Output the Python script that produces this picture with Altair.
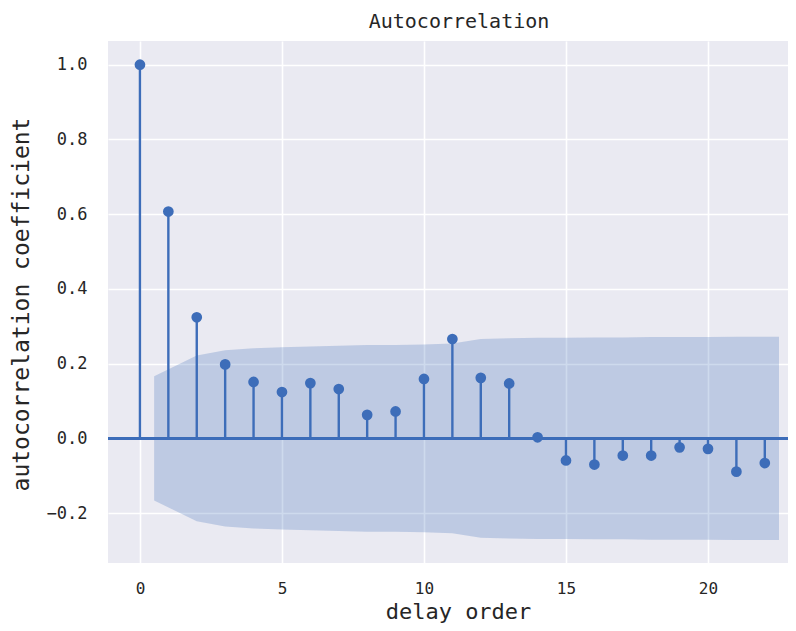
import altair as alt
import pandas as pd

# ACF values
lags = list(range(23))
acf_values = [1.0, 0.607, 0.324, 0.198, 0.151, 0.124, 0.148, 0.132, 0.063, 0.072,
              0.159, 0.266, 0.162, 0.147, 0.003, -0.059, -0.070, -0.046, -0.046,
              -0.024, -0.028, -0.089, -0.066]

# confidence band (upper edge; lower edge is the mirror)
band_x = [0.5, 2, 3, 4, 5, 6, 7, 8, 9, 10, 11, 12, 13, 14, 15, 16, 17, 18, 19, 20, 21, 22.5]
band_hi = [0.166, 0.222, 0.236, 0.241, 0.244, 0.246, 0.248, 0.250, 0.250, 0.251, 0.254,
           0.266, 0.268, 0.269, 0.269, 0.270, 0.270, 0.271, 0.271, 0.271, 0.272, 0.272]

x_ticks = [0, 5, 10, 15, 20]
y_ticks = [-0.2, 0.0, 0.2, 0.4, 0.6, 0.8, 1.0]

BLUE = "#3D6DB9"
FONT = "DejaVu Sans Mono"
TXT = "#262626"

acf_df = pd.DataFrame({"lag": lags, "acf": acf_values, "zero": [0.0] * len(lags)})
band_df = pd.DataFrame({"lag": band_x, "hi": band_hi, "lo": [-v for v in band_hi]})

xscale = alt.Scale(domain=[-1.125, 22.817], nice=False, zero=False)
yscale = alt.Scale(domain=[-0.3335, 1.0635], nice=False, zero=False)

xaxis = alt.Axis(values=x_ticks, title="delay order", labelFont=FONT, labelFontSize=16,
                 labelColor=TXT, labelPadding=17, titleFont=FONT, titleFontSize=22,
                 titleFontWeight="normal", titleColor=TXT, titleBaseline="alphabetic",
                 titleX=350, titleY=55, titleAnchor="middle", titleAlign="center",
                 format="d")
yaxis = alt.Axis(values=y_ticks, title="autocorrelation coefficient", labelFont=FONT,
                 labelFontSize=17, labelColor=TXT, labelPadding=21, titleFont=FONT,
                 titleFontSize=23, titleFontWeight="normal", titleColor=TXT,
                 titleX=-75, titleY=263, titleAngle=-90,
                 titleAlign="center", format=".1f")

band = alt.Chart(band_df).mark_area(color=BLUE, opacity=0.25).encode(
    x=alt.X("lag:Q", scale=xscale, axis=xaxis),
    y=alt.Y("hi:Q", scale=yscale, axis=yaxis),
    y2="lo:Q",
)

zero_line = alt.Chart(acf_df).mark_rule(color=BLUE, strokeWidth=2.4).encode(
    y=alt.Y(datum=0.0, scale=yscale)
)

stems = alt.Chart(acf_df).mark_rule(color=BLUE, strokeWidth=2.4).encode(
    x=alt.X("lag:Q", scale=xscale),
    y=alt.Y("zero:Q", scale=yscale),
    y2="acf:Q",
)

dots = alt.Chart(acf_df).mark_circle(color=BLUE, opacity=1, size=115).encode(
    x=alt.X("lag:Q", scale=xscale),
    y=alt.Y("acf:Q", scale=yscale),
)

chart = alt.layer(band, zero_line, stems, dots).properties(
    width=680,
    height=522,
    title=alt.TitleParams("Autocorrelation", font=FONT, fontSize=20, fontWeight="normal",
                          color=TXT, offset=9, anchor="middle", dx=11),
    autosize=alt.AutoSizeParams(type="none"),
    padding={"left": 100, "top": 33, "right": 0, "bottom": 60},
).configure_view(
    fill="#EAEAF2", stroke=None
).configure_axis(
    grid=True, gridColor="white", gridWidth=1.6, domain=False, ticks=False, tickSize=0
)

chart.save("out.html", embed_options={"renderer": "svg", "actions": False})
